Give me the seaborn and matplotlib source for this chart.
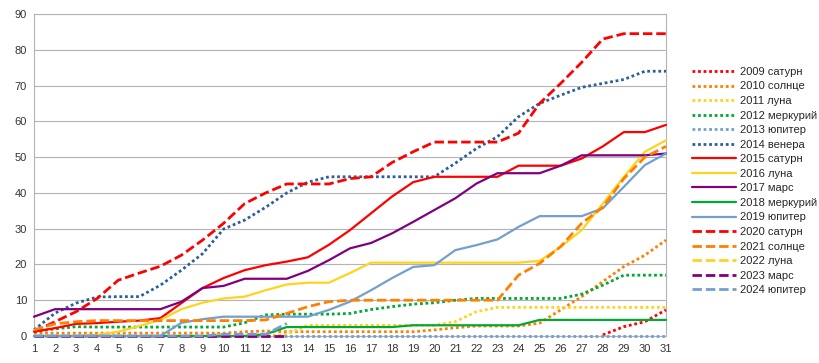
import numpy as np
import pandas as pd
import seaborn as sns
import matplotlib.pyplot as plt

nan = np.nan
days = list(range(1, 32))

# cumulative values per year
y2009 = [nan] * 27 + [0.3, 2.6, 4.0, 7.3]
y2010 = [0.8, 0.8, 0.8, 0.8, 0.8, 0.8, 0.8, 0.8, 0.8, 0.8, 1.2, 1.4, 1.2, 1.2, 1.2, 1.2,
         1.2, 1.2, 1.2, 1.7, 2.3, 2.8, 2.8, 2.8, 3.6, 7.3, 11.0, 15.2, 19.4, 22.6, 26.8]
y2011 = [0] * 12 + [0.5, 3.0, 3.0, 3.0, 3.0, 3.0, 3.0, 3.0, 4.0, 6.8, 8.0, 8.0, 8.0,
                    8.0, 8.0, 8.0, 8.0, 8.0, 8.0]
y2012 = [1.2, 2.0, 2.6, 2.5, 2.5, 2.5, 2.5, 2.5, 2.5, 2.5, 3.7, 5.9, 6.1, 6.1, 6.1, 6.3,
         7.4, 8.2, 8.9, 9.3, 10.0, 10.5, 10.5, 10.5, 10.5, 10.5, 11.7, 14.2, 17.0, 17.0, 17.0]
y2013 = [0] * 31
y2014 = [1.7, 6.4, 9.2, 10.9, 11.0, 11.0, 14.2, 18.4, 23.0, 29.9, 32.4, 36.0, 40.0, 43.0,
         44.5, 44.5, 44.5, 44.5, 44.5, 44.5, 48.3, 52.4, 55.7, 61.3, 65.0, 67.3, 69.5, 70.6,
         71.7, 74.0, 74.0]
y2015 = [1.2, 2.2, 3.4, 3.6, 4.0, 4.3, 5.0, 9.2, 13.4, 16.2, 18.4, 19.8, 20.8, 22.0, 25.5,
         29.6, 34.3, 39.0, 43.0, 44.5, 44.5, 44.5, 44.5, 47.6, 47.6, 47.6, 49.6, 53.0, 57.0,
         57.0, 59.0]
y2016 = [0, 0, 0, 0.3, 1.2, 2.8, 4.5, 7.5, 9.3, 10.5, 11.0, 12.8, 14.4, 14.9, 14.9, 17.6,
         20.5, 20.5, 20.5, 20.5, 20.5, 20.5, 20.5, 20.5, 21.0, 24.9, 29.6, 37.0, 44.5, 51.5, 54.7]
y2017 = [5.4, 7.5, 7.5, 7.5, 7.5, 7.5, 7.5, 9.6, 13.4, 14.0, 16.0, 16.0, 16.0, 18.2, 21.2,
         24.5, 26.0, 28.7, 31.9, 35.2, 38.5, 42.6, 45.5, 45.5, 45.5, 47.6, 50.5, 50.5, 50.5,
         50.5, 51.0]
y2018 = [0] * 11 + [0.5, 2.5, 2.5, 2.5, 2.5, 2.5, 2.5, 3.0, 3.0, 3.0, 3.0, 3.0, 3.0, 4.5,
                    4.5, 4.5, 4.5, 4.5, 4.5, 4.5]
y2019 = [0, 0, 0, 0, 0, 0, 0, 3.7, 4.7, 5.4, 5.4, 5.4, 5.4, 5.4, 7.3, 9.6, 12.8, 16.2, 19.3,
         19.8, 24.0, 25.4, 27.0, 30.5, 33.5, 33.5, 33.5, 35.7, 41.7, 47.8, 51.0]
y2020 = [1.2, 4.0, 6.8, 10.5, 15.6, 17.6, 19.5, 22.6, 26.8, 31.5, 37.0, 40.0, 42.5, 42.5,
         42.5, 44.0, 44.5, 48.5, 51.5, 54.2, 54.2, 54.2, 54.2, 56.7, 65.0, 70.6, 76.5, 83.0,
         84.5, 84.5, 84.5]
y2021 = [1.7, 3.4, 4.0, 4.3, 4.3, 4.3, 4.3, 4.3, 4.3, 4.3, 4.3, 4.5, 6.3, 8.2, 9.6, 10.0,
         10.0, 10.0, 10.0, 10.0, 10.0, 10.0, 10.0, 17.0, 20.3, 25.0, 31.5, 36.0, 44.0, 50.0, 53.0]
y2022 = [0] * 13
y2023 = [0] * 13
y2024 = [0] * 9 + [0.5, 0.5, 0.5, 3.5]

series = [
    ("2009 сатурн", y2009, "#ff0000", "dot"),
    ("2010 солнце", y2010, "#ff8000", "dot"),
    ("2011 луна", y2011, "#ffd320", "dot"),
    ("2012 меркурий", y2012, "#00a933", "dot"),
    ("2013 юпитер", y2013, "#729fcf", "dot"),
    ("2014 венера", y2014, "#2a6099", "dot"),
    ("2015 сатурн", y2015, "#ff0000", "solid"),
    ("2016 луна", y2016, "#ffd320", "solid"),
    ("2017 марс", y2017, "#800080", "solid"),
    ("2018 меркурий", y2018, "#00a933", "solid"),
    ("2019 юпитер", y2019, "#729fcf", "solid"),
    ("2020 сатурн", y2020, "#ff0000", "dash"),
    ("2021 солнце", y2021, "#ff8000", "dash"),
    ("2022 луна", y2022, "#ffd320", "dash"),
    ("2023 марс", y2023, "#800080", "dash"),
    ("2024 юпитер", y2024, "#729fcf", "dash"),
]

styles = {"dot": (0, (1.0, 1.0)), "solid": "-", "dash": (0, (3.4, 1.4))}

sns.set_style("white")
plt.rcParams['font.family'] = ['Liberation Sans', 'DejaVu Sans']

fig = plt.figure(figsize=(8.19, 3.63), dpi=100)
ax = fig.add_axes([34 / 819, 27 / 363, 632 / 819, 322 / 363])

for name, vals, col, st in series:
    df = pd.DataFrame({"day": days[:len(vals)], "value": vals})
    lw = 1.6 if st == "solid" else 2.0
    sns.lineplot(data=df, x="day", y="value", color=col, linestyle=styles[st],
                 linewidth=lw, label=name, ax=ax, clip_on=False, zorder=3)

ax.set_xlim(1, 31)
ax.set_ylim(0, 90)
ax.set_xticks(days)
ax.set_yticks(range(0, 91, 10))
ax.set_xlabel("")
ax.set_ylabel("")
ax.grid(axis="y", color="#b3b3b3", linewidth=0.8)
ax.set_axisbelow(True)
for s in ax.spines.values():
    s.set_color("#b3b3b3")
    s.set_linewidth(0.8)
ax.tick_params(axis="both", labelsize=8, colors="#b3b3b3", labelcolor="#333333",
               length=4, width=0.8)
ax.tick_params(axis="x", direction="out", pad=2)
ax.tick_params(axis="y", length=3, pad=2)

ax.legend(loc="center left", bbox_to_anchor=(686 / 819, 182 / 363),
          bbox_transform=fig.transFigure, frameon=False, fontsize=8,
          handlelength=4.0, handletextpad=0.4, labelspacing=0.41, borderpad=0)

fig.savefig("out.png", dpi=100)
